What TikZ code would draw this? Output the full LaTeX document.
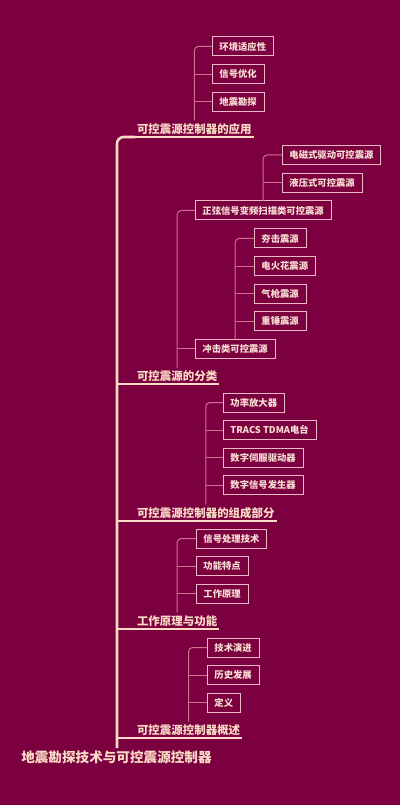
\documentclass[tikz,border=0pt]{standalone}
\usepackage{fontspec}
\newfontfamily\cjk{Noto Sans CJK SC}
\usetikzlibrary{positioning}

\definecolor{bgmaroon}{RGB}{124,0,64}
\definecolor{cream}{RGB}{250,218,196}
\definecolor{leafline}{RGB}{236,186,196}
\definecolor{leaftext}{RGB}{248,222,210}
\definecolor{twigpink}{RGB}{208,112,142}

\begin{document}
\begin{tikzpicture}[
    x=0.75pt, y=-0.75pt,
    node distance=6.4pt,
    every node/.style={font=\cjk},
    root/.style={
        anchor=west,
        inner sep=0pt,
        text=cream,
        font=\cjk\bfseries\fontsize{10.2}{12}\selectfont
    },
    topic/.style={
        anchor=south west,
        inner xsep=1.5pt,
        inner ysep=2pt,
        outer sep=0pt,
        text=cream,
        font=\cjk\bfseries\fontsize{8.6}{10}\selectfont
    },
    leaf/.style={
        rectangle,
        draw=leafline,
        fill=bgmaroon,
        text=leaftext,
        line width=0.75pt,
        inner xsep=5.6pt,
        inner ysep=1pt,
        outer sep=0pt,
        minimum height=14.25pt,
        font=\cjk\bfseries\fontsize{7}{8}\selectfont
    },
    trunk/.style={draw=cream, line width=1.9pt},
    uline/.style={draw=cream, line width=1.1pt},
    twig/.style={draw=twigpink, line width=0.75pt, rounded corners=3pt}
]

\fill[bgmaroon] (0,0) rectangle (400,805);

% root and main branches
\node[root] (root) at (21,757) {地震勘探技术与可控震源控制器};
\coordinate (trunkbase) at (117,748);

\node[topic] (app) at (135,137) {可控震源控制器的应用};
\node[topic] (kind) at (135,384) {可控震源的分类};
\node[topic] (parts) at (135,521) {可控震源控制器的组成部分};
\node[topic] (work) at (135,629) {工作原理与功能};
\node[topic] (intro) at (135,738) {可控震源控制器概述};

% application
\node[leaf, anchor=west] (adapt) at (212,46.5) {环境适应性};
\node[leaf, below=of adapt.south west, anchor=north west] (sigopt) {信号优化};
\node[leaf, below=of sigopt.south west, anchor=north west] (survey) {地震勘探};

% classification
\node[leaf, anchor=west] (sweep) at (195,210.5) {正弦信号变频扫描类可控震源};
\node[leaf, anchor=west] (emag) at (282,155) {电磁式驱动可控震源};
\node[leaf, below=of emag.south west, anchor=north west] (hydro) {液压式可控震源};
\node[leaf, anchor=west] (impact) at (195,348.5) {冲击类可控震源};
\node[leaf, anchor=west] (tamp) at (254,238.5) {夯击震源};
\node[leaf, below=of tamp.south west, anchor=north west] (spark) {电火花震源};
\node[leaf, below=of spark.south west, anchor=north west] (airgun) {气枪震源};
\node[leaf, below=of airgun.south west, anchor=north west] (weight) {重锤震源};

% components
\node[leaf, anchor=west] (amp) at (223,402.5) {功率放大器};
\node[leaf, below=of amp.south west, anchor=north west] (radio) {TRACS TDMA电台};
\node[leaf, below=of radio.south west, anchor=north west] (servo) {数字伺服驱动器};
\node[leaf, below=of servo.south west, anchor=north west] (siggen) {数字信号发生器};

% principle
\node[leaf, anchor=west] (sigproc) at (196,538.5) {信号处理技术};
\node[leaf, below=of sigproc.south west, anchor=north west] (feature) {功能特点};
\node[leaf, below=of feature.south west, anchor=north west] (princ) {工作原理};

% overview
\node[leaf, anchor=west] (evol) at (207,647.5) {技术演进};
\node[leaf, below=of evol.south west, anchor=north west] (hist) {历史发展};
\node[leaf, below=of hist.south west, anchor=north west] (defn) {定义};

% trunk
\draw[trunk, rounded corners=5pt] (trunkbase) |- (app.south west);
\draw[trunk] (trunkbase |- kind.south west) -- (kind.south west);
\draw[trunk] (trunkbase |- parts.south west) -- (parts.south west);
\draw[trunk] (trunkbase |- work.south west) -- (work.south west);
\draw[trunk] (trunkbase |- intro.south west) -- (intro.south west);

\draw[uline] (app.south west) -- (app.south east);
\draw[uline] (kind.south west) -- (kind.south east);
\draw[uline] (parts.south west) -- (parts.south east);
\draw[uline] (work.south west) -- (work.south east);
\draw[uline] (intro.south west) -- (intro.south east);

% twigs
\draw[twig] (app.north) |- (adapt.west);
\draw[twig] (app.north |- sigopt.west) -- (sigopt.west);
\draw[twig] (app.north |- survey.west) -- (survey.west);

\draw[twig] (kind.north) |- (sweep.west);
\draw[twig] (kind.north |- impact.west) -- (impact.west);
\draw[twig] (sweep.north) |- (emag.west);
\draw[twig] (sweep.north |- hydro.west) -- (hydro.west);
\draw[twig] (impact.north) |- (tamp.west);
\draw[twig] (impact.north |- spark.west) -- (spark.west);
\draw[twig] (impact.north |- airgun.west) -- (airgun.west);
\draw[twig] (impact.north |- weight.west) -- (weight.west);

\draw[twig] (parts.north) |- (amp.west);
\draw[twig] (parts.north |- radio.west) -- (radio.west);
\draw[twig] (parts.north |- servo.west) -- (servo.west);
\draw[twig] (parts.north |- siggen.west) -- (siggen.west);

\draw[twig] (work.north) |- (sigproc.west);
\draw[twig] (work.north |- feature.west) -- (feature.west);
\draw[twig] (work.north |- princ.west) -- (princ.west);

\draw[twig] (intro.north) |- (evol.west);
\draw[twig] (intro.north |- hist.west) -- (hist.west);
\draw[twig] (intro.north |- defn.west) -- (defn.west);

\end{tikzpicture}
\end{document}
